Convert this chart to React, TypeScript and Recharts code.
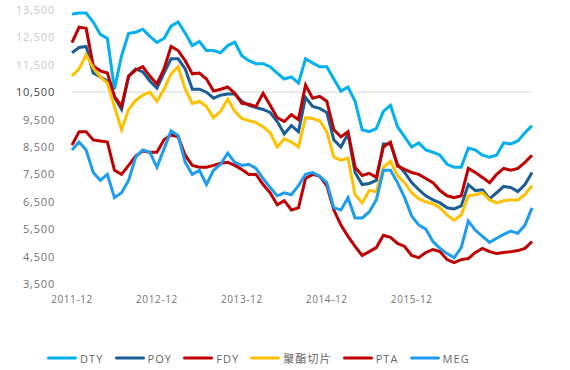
import { LineChart, Line, XAxis, YAxis, Legend, ReferenceLine } from 'recharts';

// monthly points, Dec 2011 .. May 2017
const months: string[] = [];
for (let i = 0; i < 66; i++) {
  const m = 11 + i;
  const yr = 2011 + Math.floor(m / 12);
  const mo = (m % 12) + 1;
  months.push(`${yr}-${mo < 10 ? '0' + mo : mo}`);
}

const yearTicks = ['2011-12', '2012-12', '2013-12', '2014-12', '2015-12'];
const yTicks = [3500, 4500, 5500, 6500, 7500, 8500, 9500, 10500, 11500, 12500, 13500];

const dty = [13350, 13390, 13390, 13060, 12610, 12460, 10610, 11830, 12650, 12690, 12800, 12540, 12320, 12460, 12910, 13060, 12650, 12200, 12350, 12020, 12020, 11940, 12200, 12320, 11830, 11650, 11540, 11540, 11430, 11200, 10980, 11060, 10830, 11720, 11570, 11430, 11430, 10980, 10540, 10690, 10170, 9130, 9060, 9170, 9800, 10020, 9240, 8870, 8500, 8650, 8390, 8310, 8200, 7870, 7760, 7760, 8460, 8390, 8200, 8130, 8200, 8650, 8610, 8720, 9020, 9280];
const poy = [11940, 12130, 12170, 11200, 11060, 10910, 10310, 9870, 11090, 11350, 11240, 10910, 10650, 11200, 11720, 11720, 11350, 10610, 10610, 10500, 10280, 10390, 10430, 10430, 10170, 10020, 9940, 9870, 9760, 9430, 8980, 9280, 9060, 10310, 9980, 9910, 9760, 8760, 8500, 8980, 7570, 7130, 7170, 7280, 8610, 8610, 7870, 7570, 7200, 6940, 6720, 6570, 6460, 6280, 6240, 6350, 7130, 6910, 6940, 6610, 6830, 7060, 7020, 6870, 7130, 7570];
const fdy = [12310, 12870, 12830, 11460, 11280, 11200, 10350, 9980, 11090, 11310, 11430, 11090, 10800, 11350, 12170, 12020, 11650, 11170, 11200, 10980, 10540, 10610, 10690, 10460, 10090, 10060, 9980, 10460, 10020, 9570, 9430, 9680, 9500, 10760, 10280, 10350, 10170, 9130, 8870, 9060, 7760, 7460, 7540, 7390, 8500, 8680, 7800, 7680, 7570, 7500, 7350, 7200, 6910, 6720, 6650, 6720, 7720, 7570, 7390, 7200, 7500, 7720, 7650, 7720, 7940, 8200];
const chip = [11090, 11350, 11870, 11390, 11060, 10830, 9980, 9130, 9870, 10200, 10390, 10500, 10170, 10610, 11170, 11430, 10610, 10090, 10170, 9980, 9570, 9800, 10240, 9800, 9540, 9460, 9390, 9240, 9020, 8500, 8800, 8680, 8500, 9570, 9540, 9460, 9060, 8130, 8020, 8090, 6760, 6460, 6910, 6870, 7760, 7980, 7460, 7200, 6830, 6610, 6500, 6430, 6280, 6020, 5830, 6020, 6720, 6760, 6830, 6570, 6460, 6540, 6570, 6570, 6760, 7090];
const pta = [8570, 9060, 9060, 8760, 8720, 8680, 7650, 7500, 7830, 8170, 8350, 8310, 8310, 8760, 8940, 8870, 8200, 7830, 7760, 7760, 7830, 7910, 7940, 7830, 7680, 7500, 7500, 7130, 6830, 6390, 6540, 6200, 6280, 7350, 7500, 7430, 7090, 6200, 5650, 5240, 4870, 4540, 4680, 4830, 5280, 5200, 4980, 4870, 4540, 4460, 4650, 4760, 4680, 4390, 4280, 4390, 4430, 4650, 4800, 4680, 4610, 4650, 4680, 4720, 4800, 5050];
const meg = [8390, 8680, 8390, 7570, 7280, 7500, 6650, 6830, 7280, 8130, 8390, 8310, 7760, 8430, 9090, 8910, 7940, 7500, 7650, 7130, 7650, 7870, 8280, 7940, 7830, 7870, 7720, 7350, 7020, 6720, 6830, 6760, 7090, 7500, 7570, 7430, 7200, 6280, 6200, 6650, 5910, 5910, 6130, 6570, 7650, 7650, 7200, 6650, 5980, 5650, 5500, 5050, 4800, 4610, 4460, 4830, 5800, 5460, 5240, 5020, 5170, 5310, 5430, 5350, 5650, 6280];

const series = [
  { key: 'DTY', color: '#00B0F0', values: dty },
  { key: 'POY', color: '#1B5E96', values: poy },
  { key: 'FDY', color: '#C00000', values: fdy },
  { key: '聚酯切片', color: '#FFC000', values: chip },
  { key: 'PTA', color: '#C00000', values: pta },
  { key: 'MEG', color: '#1E9CF0', values: meg },
];

const data = months.map((m, i) => {
  const row: any = { month: m };
  series.forEach((s) => { row[s.key] = s.values[i]; });
  return row;
});

const font = "'Open Sans', 'Noto Sans CJK SC', sans-serif";

const YTick = ({ x, y, payload }: any) => {
  const v = payload.value;
  const fill = v > 10500 ? '#c8c8c8' : v === 10500 ? '#404040' : '#737373';
  return (
    <text x={x} y={y} dy={4} textAnchor="end" fill={fill} fontSize={11} letterSpacing={0.8} fontFamily={font}>
      {v.toLocaleString('en-US')}
    </text>
  );
};

const LegendContent = () => (
  <div style={{ display: 'flex', alignItems: 'center', paddingLeft: 47, fontFamily: font }}>
    {series.map((s) => (
      <div key={s.key} style={{ display: 'flex', alignItems: 'center', marginRight: 11 }}>
        <svg width={30} height={4} style={{ marginRight: 3 }}>
          <line x1={1.5} y1={2} x2={28.5} y2={2} stroke={s.color} strokeWidth={3} strokeLinecap="round" />
        </svg>
        <span style={{ fontSize: 11, color: '#666', letterSpacing: 1.1 }}>{s.key}</span>
      </div>
    ))}
  </div>
);

export default function App() {
  return (
    <div style={{ position: 'absolute', left: 0, top: 0, background: '#fff' }}>
      <LineChart width={570} height={370} data={data} margin={{ top: 10, right: 38, bottom: 4, left: 0 }}>
        <ReferenceLine y={10500} stroke="#D9D9D9" strokeWidth={1} />
        <XAxis
          dataKey="month"
          ticks={yearTicks}
          interval={0}
          axisLine={false}
          tickLine={false}
          tickSize={0}
          tickMargin={12}
          height={66}
          tick={{ fontSize: 10, fill: '#737373', fontFamily: font, letterSpacing: 0.6 }}
        />
        <YAxis
          width={72}
          domain={[3500, 13500]}
          ticks={yTicks}
          interval={0}
          axisLine={false}
          tickLine={false}
          tickSize={0}
          tickMargin={17}
          tick={<YTick />}
        />
        <Legend verticalAlign="bottom" content={<LegendContent />} wrapperStyle={{ left: 0, width: 570 }} />
        {series.map((s) => (
          <Line
            key={s.key}
            dataKey={s.key}
            stroke={s.color}
            strokeWidth={3}
            dot={false}
            type="linear"
            isAnimationActive={false}
          />
        ))}
      </LineChart>
    </div>
  );
}
